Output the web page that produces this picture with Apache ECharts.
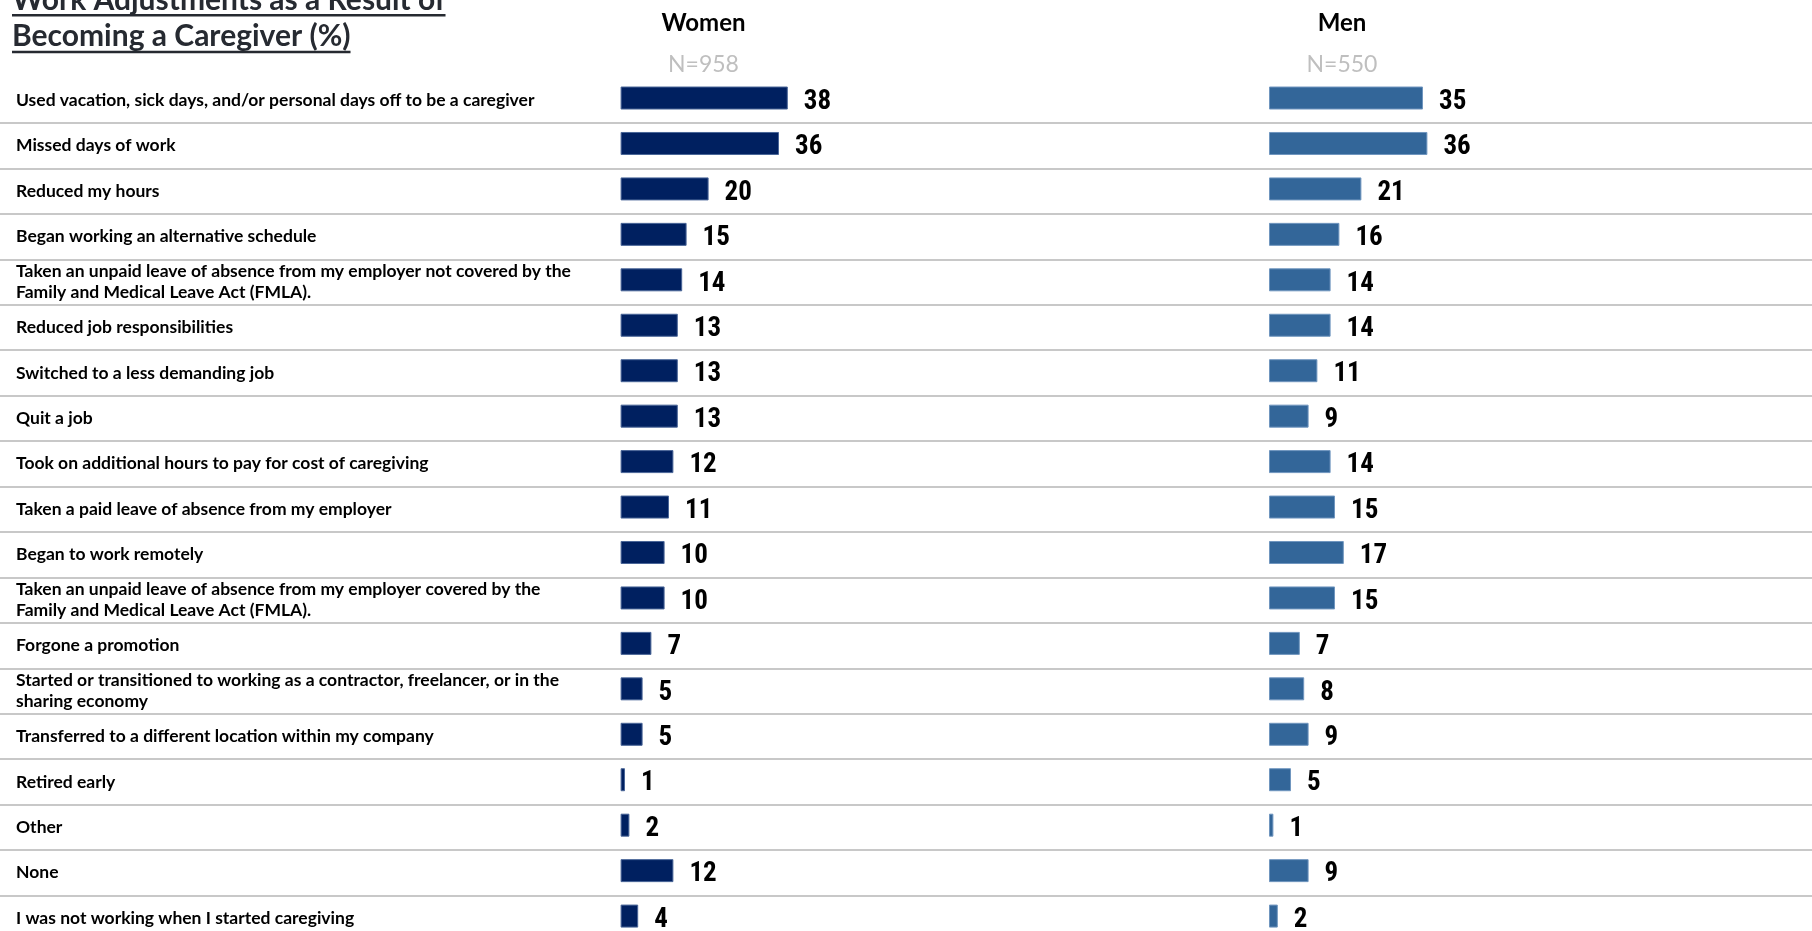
<!DOCTYPE html>
<html>
<head>
<meta charset="utf-8">
<script src="https://cdn.jsdelivr.net/npm/echarts@6/dist/echarts.min.js"></script>
<style>
html,body{margin:0;padding:0;background:#fff;}
#main{width:1812px;height:931px;}
</style>
</head>
<body>
<div id="main"></div>
<script>
const titleLines = ['Work Adjustments as a Result of', 'Becoming a Caregiver (%)'];
const groupNames = ['Women', 'Men'];
const sampleSizes = ['N=958', 'N=550'];
const categories = [
  'Used vacation, sick days, and/or personal days off to be a caregiver',
  'Missed days of work',
  'Reduced my hours',
  'Began working an alternative schedule',
  'Taken an unpaid leave of absence from my employer not covered by the\nFamily and Medical Leave Act (FMLA).',
  'Reduced job responsibilities',
  'Switched to a less demanding job',
  'Quit a job',
  'Took on additional hours to pay for cost of caregiving',
  'Taken a paid leave of absence from my employer',
  'Began to work remotely',
  'Taken an unpaid leave of absence from my employer covered by the\nFamily and Medical Leave Act (FMLA).',
  'Forgone a promotion',
  'Started or transitioned to working as a contractor, freelancer, or in the\nsharing economy',
  'Transferred to a different location within my company',
  'Retired early',
  'Other',
  'None',
  'I was not working when I started caregiving'
];
const women = [38, 36, 20, 15, 14, 13, 13, 13, 12, 11, 10, 10, 7, 5, 5, 1, 2, 12, 4];
const men   = [35, 36, 21, 16, 14, 14, 11, 9, 14, 15, 17, 15, 7, 8, 9, 5, 1, 9, 2];

const FONT = 'Lato, "Open Sans", sans-serif';
const NUMFONT = '"Liberation Sans Narrow", "Roboto Condensed", Lato, sans-serif';
const ROW_TOP = 75.3, ROW_H = 863.5;
const TITLE_COLOR = '#262a31';

function textWidth(txt, font) {
  const c = document.createElement('canvas').getContext('2d');
  c.font = font;
  return c.measureText(txt).width;
}

const titleFontSize = 30;
const titleFont = 'bold ' + titleFontSize + 'px ' + FONT;
const titleBaselines = [10, 46.7];
const graphics = [];
titleLines.forEach((t, i) => {
  graphics.push({
    type: 'text', x: 12, y: titleBaselines[i] - 10,
    style: { text: t, font: titleFont, fill: TITLE_COLOR, align: 'left', verticalAlign: 'middle' }
  });
  graphics.push({
    type: 'rect', x: 12, y: titleBaselines[i] + 4,
    shape: { width: textWidth(t, titleFont), height: 2.5 },
    style: { fill: TITLE_COLOR }
  });
});
const headerCenters = [703.5, 1342];
groupNames.forEach((g, i) => {
  graphics.push({
    type: 'text', x: headerCenters[i], y: 23,
    style: { text: g, font: 'bold 24px ' + FONT, fill: '#000', align: 'center', verticalAlign: 'middle' }
  });
  graphics.push({
    type: 'text', x: headerCenters[i], y: 65,
    style: { text: sampleSizes[i], font: '23px ' + FONT, fill: '#bfbfbf', align: 'center', verticalAlign: 'middle' }
  });
});

const barLabel = {
  show: true, position: 'right', distance: 16, offset: [0, 4],
  fontFamily: NUMFONT, fontSize: 27, fontWeight: 'bold', color: '#000'
};

const chart = echarts.init(document.getElementById('main'), null, { renderer: 'canvas' });
chart.setOption({
  backgroundColor: '#ffffff',
  animation: false,
  graphic: graphics,
  grid: [
    { left: 0, width: 1812, top: ROW_TOP + 2.2, height: ROW_H, containLabel: false, outerBoundsMode: 'none' },
    { left: 620.6, width: 440, top: ROW_TOP, height: ROW_H, outerBoundsMode: 'none' },
    { left: 1269, width: 440, top: ROW_TOP, height: ROW_H, outerBoundsMode: 'none' }
  ],
  xAxis: [
    { gridIndex: 0, type: 'value', min: 0, max: 1, show: false },
    { gridIndex: 1, type: 'value', min: 0, max: 100, show: false },
    { gridIndex: 2, type: 'value', min: 0, max: 100, show: false }
  ],
  yAxis: [
    {
      gridIndex: 0, type: 'category', data: categories, inverse: true,
      axisLine: { show: false }, axisTick: { show: false },
      axisLabel: {
        inside: true, margin: 16, align: 'left',
        fontFamily: FONT, fontSize: 17.5, fontWeight: 'bold', color: '#000', lineHeight: 21,
        interval: 0
      },
      splitLine: {
        show: true, interval: function (i) { return i > 0; },
        lineStyle: { color: '#c8c8c8', width: 2 }
      }
    },
    { gridIndex: 1, type: 'category', data: categories, inverse: true, show: false },
    { gridIndex: 2, type: 'category', data: categories, inverse: true, show: false }
  ],
  series: [
    {
      name: groupNames[0], type: 'bar', xAxisIndex: 1, yAxisIndex: 1, data: women,
      barWidth: 23,
      itemStyle: { color: '#002060', borderColor: '#4a6698', borderWidth: 1 },
      label: barLabel
    },
    {
      name: groupNames[1], type: 'bar', xAxisIndex: 2, yAxisIndex: 2, data: men,
      barWidth: 23,
      itemStyle: { color: '#336699', borderColor: '#7096bf', borderWidth: 1 },
      label: barLabel
    }
  ]
});
</script>
</body>
</html>
